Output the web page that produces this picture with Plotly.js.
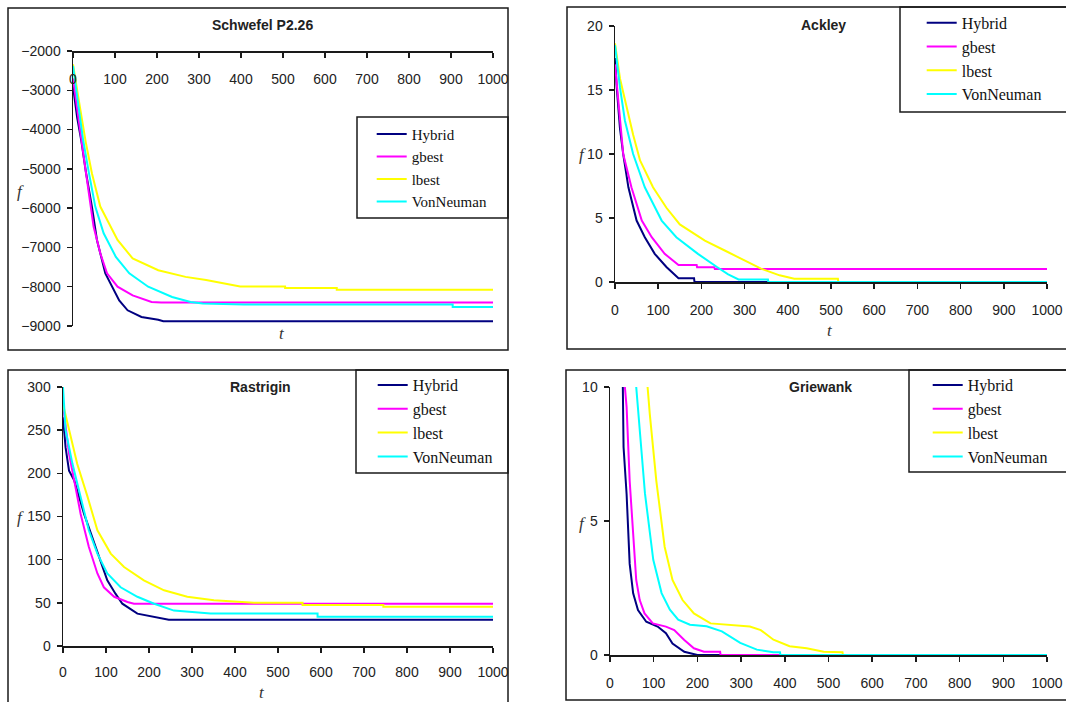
<!DOCTYPE html>
<html>
<head>
<meta charset="utf-8">
<script src="https://cdn.plot.ly/plotly-3.0.1.min.js"></script>
<style>html,body{margin:0;padding:0;background:#fff;}#chart{width:1066px;height:702px;}</style>
</head>
<body>
<div id="chart"></div>
<script>
// ---------- DATA ----------
const seriesNames = ["Hybrid", "gbest", "lbest", "VonNeuman"];
const panelTitles = ["Schwefel P2.26", "Ackley", "Rastrigin", "Griewank"];
const xTickVals = [0, 100, 200, 300, 400, 500, 600, 700, 800, 900, 1000];
const xTickText = ["0", "100", "200", "300", "400", "500", "600", "700", "800", "900", "1000"];

// Schwefel P2.26
const schwefel_hybrid_t = [0, 10, 20, 31, 45, 57, 77, 93, 110, 130, 163, 203, 215, 1000];
const schwefel_hybrid_f = [-2900, -3700, -4300, -5100, -5960, -6810, -7660, -8000, -8350, -8600, -8770, -8840, -8880, -8880];
const schwefel_gbest_t = [0, 10, 20, 31, 49, 65, 81, 106, 142, 187, 210, 1000];
const schwefel_gbest_f = [-2700, -3500, -4260, -5110, -6470, -7150, -7660, -8000, -8220, -8390, -8400, -8400];
const schwefel_lbest_t = [0, 8, 16, 30, 45, 65, 85, 106, 142, 203, 268, 317, 398, 505, 505, 628, 628, 1000];
const schwefel_lbest_f = [-2340, -2900, -3400, -4300, -5110, -5960, -6390, -6810, -7280, -7580, -7750, -7830, -7995, -7995, -8035, -8035, -8075, -8075];
const schwefel_von_t = [0, 12, 24, 38, 53, 73, 102, 134, 179, 236, 280, 309, 407, 904, 904, 1000];
const schwefel_von_f = [-2380, -3300, -4260, -5110, -5960, -6640, -7240, -7660, -8000, -8260, -8390, -8430, -8455, -8455, -8515, -8515];

// Ackley
const ackley_hybrid_t = [0, 4, 11.5, 19, 31, 50, 69, 92, 119, 147, 183, 184, 1000];
const ackley_hybrid_f = [17.5, 15.2, 12, 10, 7.4, 4.8, 3.5, 2.2, 1.17, 0.29, 0.29, 0, 0];
const ackley_gbest_t = [0, 8, 19, 38, 62, 85, 115, 147, 189, 190, 230, 231, 1000];
const ackley_gbest_f = [17, 13.9, 10, 7.4, 4.8, 3.5, 2.2, 1.33, 1.33, 1.15, 1.15, 1.02, 1.02];
const ackley_lbest_t = [0, 11.5, 42, 58, 88, 119, 150, 185, 208, 254, 300, 338, 381, 415, 516, 517, 1000];
const ackley_lbest_f = [18.65, 15.9, 11.5, 9.5, 7.4, 5.8, 4.5, 3.76, 3.24, 2.46, 1.68, 1.04, 0.52, 0.26, 0.26, 0, 0];
const ackley_von_t = [0, 11.5, 23, 42, 69, 108, 142, 192, 236, 262, 286, 354, 355, 1000];
const ackley_von_f = [18.5, 15.2, 12.6, 10, 7.4, 4.8, 3.5, 2.2, 1.17, 0.6, 0.2, 0.2, 0, 0];

// Rastrigin
const rastrigin_hybrid_t = [0, 6, 14, 26, 49, 76, 91, 103, 122, 138, 173, 212, 246, 1000];
const rastrigin_hybrid_f = [265, 230, 203, 192, 153, 115, 91.5, 76, 60.6, 49, 37.5, 33.6, 30.5, 30.5];
const rastrigin_gbest_t = [0, 14, 26, 41, 60, 80, 95, 119, 150, 165, 1000];
const rastrigin_gbest_f = [279, 223, 192, 153, 115, 84, 68, 57, 51, 49, 49];
const rastrigin_lbest_t = [0, 14, 33, 57, 80, 111, 142, 188, 235, 289, 351, 444, 557, 557, 745, 745, 1000];
const rastrigin_lbest_f = [280, 250, 211, 173, 134, 107, 91.5, 76, 64.5, 57, 53, 50, 50, 47.5, 47.5, 45.5, 45.5];
const rastrigin_von_t = [0, 6, 22, 41, 60, 80, 103, 134, 173, 212, 258, 343, 592, 592, 1000];
const rastrigin_von_f = [300, 250, 211, 173, 134, 107, 84, 68, 57, 49, 41, 37.5, 37.5, 34, 34];

// Griewank (values above 10 are outside the drawn range)
const griewank_hybrid_t = [29, 31, 38, 41.5, 45, 53, 64, 83, 109, 128, 143, 170, 196, 200, 1000];
const griewank_hybrid_f = [10.5, 7.76, 6.0, 4.8, 3.4, 2.3, 1.68, 1.24, 1.06, 0.81, 0.43, 0.12, 0.04, 0, 0];
const griewank_gbest_t = [33, 38, 45, 53, 60, 68, 79, 98, 128, 147, 170, 192, 215, 252, 253, 1000];
const griewank_gbest_f = [10.2, 9.25, 6.5, 4.3, 2.8, 2.05, 1.55, 1.18, 1.06, 0.93, 0.56, 0.25, 0.12, 0.12, 0, 0];
const griewank_lbest_t = [85, 91, 106, 125, 143, 166, 192, 230, 320, 345, 374, 411, 450, 489, 532, 533, 1000];
const griewank_lbest_f = [10.2, 9.0, 6.5, 4.04, 2.8, 2.05, 1.55, 1.18, 1.06, 0.93, 0.57, 0.33, 0.25, 0.12, 0.1, 0, 0];
const griewank_von_t = [59, 60, 69, 80, 99, 118, 137, 156, 183, 221, 256, 298, 336, 374, 389, 390, 1000];
const griewank_von_f = [10.2, 10, 8.5, 6.03, 3.55, 2.31, 1.69, 1.32, 1.13, 1.07, 0.88, 0.45, 0.2, 0.1, 0.1, 0, 0];

// ---------- STYLE ----------
const W = 1066, H = 702;
const fx = p => p / W;
const fy = p => 1 - p / H;
const colors = ["#000080", "#ff00ff", "#ffff00", "#00ffff"];
const axisColor = "#1a1a1a";
const tickFont = {family: "Liberation Sans, Arial, sans-serif", size: 14, color: "#222"};
const serif = "Liberation Serif, Times New Roman, serif";

const panels = [
  {id: "", legend: "legend", series: [[schwefel_hybrid_t, schwefel_hybrid_f], [schwefel_gbest_t, schwefel_gbest_f], [schwefel_lbest_t, schwefel_lbest_f], [schwefel_von_t, schwefel_von_f]]},
  {id: "2", legend: "legend2", series: [[ackley_hybrid_t, ackley_hybrid_f], [ackley_gbest_t, ackley_gbest_f], [ackley_lbest_t, ackley_lbest_f], [ackley_von_t, ackley_von_f]]},
  {id: "3", legend: "legend3", series: [[rastrigin_hybrid_t, rastrigin_hybrid_f], [rastrigin_gbest_t, rastrigin_gbest_f], [rastrigin_lbest_t, rastrigin_lbest_f], [rastrigin_von_t, rastrigin_von_f]]},
  {id: "4", legend: "legend4", series: [[griewank_hybrid_t, griewank_hybrid_f], [griewank_gbest_t, griewank_gbest_f], [griewank_lbest_t, griewank_lbest_f], [griewank_von_t, griewank_von_f]]}
];

const traces = [];
panels.forEach(p => {
  p.series.forEach((s, i) => {
    traces.push({
      type: "scatter", mode: "lines",
      x: s[0], y: s[1],
      name: seriesNames[i],
      line: {color: colors[i], width: 2},
      xaxis: "x" + p.id, yaxis: "y" + p.id,
      legend: p.legend,
      hoverinfo: "skip"
    });
  });
});

function xAx(domPx, extra) {
  return Object.assign({
    domain: [fx(domPx[0]), fx(domPx[1])], range: [0, 1000],
    tickvals: xTickVals, ticktext: xTickText,
    ticks: "outside", ticklen: 5, tickwidth: 1.5, tickcolor: axisColor,
    showline: true, linecolor: axisColor, linewidth: 1.5,
    showgrid: false, zeroline: false, tickfont: tickFont,
    ticklabelstandoff: 10, fixedrange: true
  }, extra);
}
function yAx(domPx, range, dtick, extra) {
  return Object.assign({
    domain: [fy(domPx[1]), fy(domPx[0])], range: range, dtick: dtick, tick0: range[0],
    ticks: "outside", ticklen: 5, tickwidth: 1.5, tickcolor: axisColor,
    showline: true, linecolor: axisColor, linewidth: 1.5,
    showgrid: false, zeroline: false, tickfont: tickFont,
    ticklabelstandoff: 3, fixedrange: true
  }, extra);
}

function legendAt(leftPx, topPx, size) {
  return {x: fx(leftPx), y: fy(topPx), xanchor: "left", yanchor: "top",
    bgcolor: "rgba(0,0,0,0)", borderwidth: 0, traceorder: "normal",
    font: {family: serif, size: size, color: "#111"}};
}

function rect(x0, y0, x1, y1) {
  return {type: "rect", xref: "paper", yref: "paper", x0: fx(x0), x1: fx(x1), y0: fy(y1), y1: fy(y0),
    line: {color: axisColor, width: 1.5}, fillcolor: "rgba(0,0,0,0)", layer: "above"};
}

function title(text, cx, cy) {
  return {text: text, xref: "paper", yref: "paper", x: fx(cx), y: fy(cy), xanchor: "center", yanchor: "middle",
    showarrow: false, font: {family: "Liberation Sans, Arial, sans-serif", size: 14, color: "#222", weight: "bold"}};
}
function varLabel(text, cx, cy) {
  return {text: "<i>" + text + "</i>", xref: "paper", yref: "paper", x: fx(cx), y: fy(cy), xanchor: "center", yanchor: "middle",
    showarrow: false, font: {family: serif, size: 17, color: "#333"}};
}

const layout = {
  width: W, height: H,
  margin: {l: 0, r: 0, t: 0, b: 0},
  paper_bgcolor: "#fff", plot_bgcolor: "rgba(0,0,0,0)",
  showlegend: true,
  xaxis: xAx([73, 493], {anchor: "free", position: fy(51), side: "bottom"}),
  yaxis: yAx([51, 326], [-9000, -2000], 1000, {anchor: "x"}),
  xaxis2: xAx([615, 1047], {anchor: "y2"}),
  yaxis2: yAx([26, 282], [0, 20], 5, {anchor: "x2"}),
  xaxis3: xAx([63, 493], {anchor: "y3", ticklabelstandoff: 8}),
  yaxis3: yAx([387, 646], [0, 300], 50, {anchor: "x3"}),
  xaxis4: xAx([610, 1047], {anchor: "y4"}),
  yaxis4: yAx([387, 655], [0, 10], 5, {anchor: "x4"}),
  legend: legendAt(371.7, 117.8, 15),
  legend2: legendAt(921.7, 5.8, 16),
  legend3: legendAt(372.7, 368.1, 16),
  legend4: legendAt(927.7, 368.1, 16),
  shapes: [
    rect(8, 8, 508, 350),
    rect(567, 7, 1070, 349),
    rect(8, 370, 508, 710),
    rect(566, 370, 1070, 700),
    rect(357, 117, 508, 218),
    rect(900, 7, 1070, 112),
    rect(356, 370, 508, 473),
    rect(909, 370, 1070, 472)
  ],
  annotations: [
    title(panelTitles[0], 262, 25),
    title(panelTitles[1], 823, 25),
    title(panelTitles[2], 260, 387),
    title(panelTitles[3], 820, 387),
    varLabel("f", 20, 191),
    varLabel("t", 282, 333),
    varLabel("f", 582, 155),
    varLabel("t", 830, 330),
    varLabel("f", 20, 517),
    varLabel("t", 262, 692),
    varLabel("f", 582, 523)
  ]
};

Plotly.newPlot("chart", traces, layout, {staticPlot: true, displayModeBar: false});
</script>
</body>
</html>
